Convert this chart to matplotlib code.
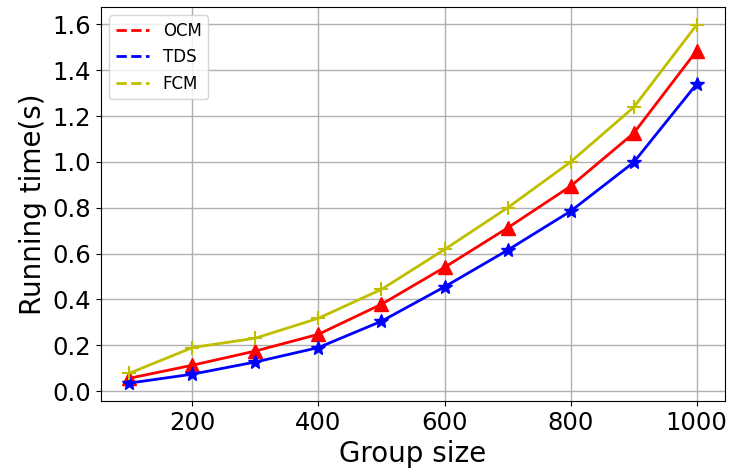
import matplotlib
matplotlib.use('Agg')
import matplotlib.pyplot as plt
from matplotlib.lines import Line2D
from matplotlib.ticker import MultipleLocator

# 数据
group_size = [100, 200, 300, 400, 500, 600, 700, 800, 900, 1000]
ocm = [0.056, 0.113, 0.175, 0.248, 0.379, 0.54, 0.712, 0.894, 1.125, 1.485]
tds = [0.035, 0.074, 0.127, 0.19, 0.305, 0.455, 0.615, 0.785, 0.998, 1.34]
fcm = [0.078, 0.19, 0.231, 0.318, 0.444, 0.618, 0.80, 1.0, 1.238, 1.598]

fig = plt.figure(figsize=(7.35, 4.76), dpi=100)
ax = fig.add_axes([101/735, 1 - 401/476, 624/735, 394/476])

ax.plot(group_size, ocm, 'r-', marker='^', markersize=10, linewidth=2)
ax.plot(group_size, tds, 'b-', marker='*', markersize=10, linewidth=2)
ax.plot(group_size, fcm, 'y-', marker='+', markersize=10, linewidth=2, markeredgewidth=1.5)

handles = [Line2D([], [], color='r', linestyle='--', linewidth=2),
           Line2D([], [], color='b', linestyle='--', linewidth=2),
           Line2D([], [], color='y', linestyle='--', linewidth=2)]
ax.legend(handles, ['OCM', 'TDS', 'FCM'], loc='upper left', fontsize=12)

ax.yaxis.set_major_locator(MultipleLocator(0.2))
ax.grid(True, color='#b0b0b0', linewidth=1)
ax.tick_params(labelsize=17.5)
ax.set_xlabel('Group size', fontsize=20)
ax.set_ylabel('Running time(s)', fontsize=20)

fig.savefig('out.png', dpi=100)
